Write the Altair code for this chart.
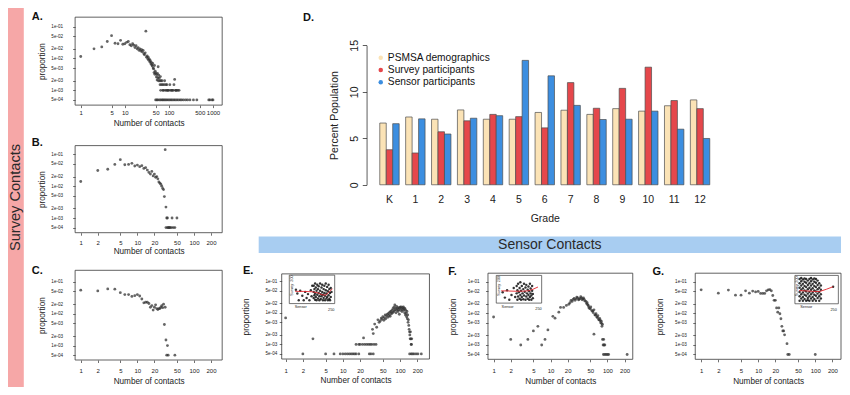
import math
import altair as alt
import pandas as pd

# ---------------- data ----------------
grades = ["K", "1", "2", "3", "4", "5", "6", "7", "8", "9", "10", "11", "12"]
psmsa_pct = [6.64, 7.29, 7.05, 8.05, 7.05, 7.05, 7.78, 8.02, 7.57, 8.19, 7.92, 8.50, 9.13]
survey_pct = [3.77, 3.42, 5.70, 6.88, 7.57, 7.33, 6.12, 10.99, 8.23, 10.37, 12.65, 9.06, 8.19]
sensor_pct = [6.57, 7.09, 5.46, 7.16, 7.43, 13.38, 11.72, 8.54, 7.02, 7.05, 7.92, 5.98, 4.98]
series_names = ["PSMSA demographics", "Survey participants", "Sensor participants"]
series_colors = ["#FBE3B6", "#E5474B", "#3C8EE0"]

y_ticks = [1e-1, 5e-2, 2e-2, 1e-2, 5e-3, 2e-3, 1e-3, 5e-4]
x_ticks_a = [1, 5, 10, 50, 100, 500, 1000]
x_ticks = [1, 2, 5, 10, 20, 50, 100, 200]

panel_a = [
    (1, 0.0115), (2, 0.020), (3, 0.023), (4, 0.034), (5, 0.052), (6, 0.030), (7, 0.029), (8, 0.037), (9, 0.028), (10, 0.029),
    (11, 0.032), (12, 0.034), (13, 0.027), (14, 0.025), (15, 0.029), (16, 0.026), (17, 0.022), (18, 0.025), (19, 0.020), (20, 0.022),
    (21, 0.018), (22, 0.020), (23, 0.017), (24, 0.019), (25, 0.016), (26, 0.018), (27, 0.014), (28, 0.013), (29, 0.015), (30, 0.072),
    (31, 0.011), (32, 0.012), (33, 0.0098), (34, 0.011), (35, 0.0088), (36, 0.0095), (37, 0.0078), (38, 0.0085), (39, 0.0068), (40, 0.0075),
    (41, 0.0062), (42, 0.0058), (43, 0.0070), (44, 0.0050), (45, 0.0047), (46, 0.0036), (47, 0.0060), (48, 0.0032), (49, 0.0040), (50, 0.0035),
    (52, 0.0026), (53, 0.0031), (54, 0.0021), (55, 0.0034), (56, 0.0025), (57, 0.0055), (58, 0.0020), (59, 0.0030), (60, 0.0024), (62, 0.0020),
    (63, 0.0015), (64, 0.0027), (65, 0.0010), (66, 0.0020), (68, 0.0015), (70, 0.0020), (72, 0.0015), (73, 0.0010), (75, 0.0010), (78, 0.0015),
    (80, 0.0020), (82, 0.0010), (85, 0.0015), (88, 0.0010), (90, 0.0015), (92, 0.0010), (95, 0.0010), (100, 0.0010), (105, 0.0015), (110, 0.0010),
    (115, 0.0010), (120, 0.0010), (125, 0.0010), (130, 0.0015), (135, 0.0022), (140, 0.0010), (145, 0.0010), (150, 0.0010), (160, 0.0010), (170, 0.0010),
    (50, 0.0005), (53, 0.0005), (56, 0.0005), (61, 0.0005), (65, 0.0005), (70, 0.0005), (74, 0.0005), (79, 0.0005), (84, 0.0005), (90, 0.0005),
    (97, 0.0005), (104, 0.0005), (112, 0.0005), (120, 0.0005), (130, 0.0005), (140, 0.0005), (152, 0.0005), (165, 0.0005), (180, 0.0005), (195, 0.0005),
    (215, 0.0005), (240, 0.0005), (265, 0.0005), (300, 0.0005), (360, 0.0005), (430, 0.0005), (800, 0.0005), (850, 0.0005), (950, 0.0005), (1000, 0.0005),
]

panel_b = [
    (1, 0.014), (2, 0.031), (3, 0.034), (4, 0.048), (5, 0.068), (6, 0.047), (7, 0.048), (8, 0.052), (9, 0.043), (10, 0.046),
    (11, 0.041), (12, 0.044), (13, 0.036), (14, 0.038), (15, 0.032), (16, 0.027), (17, 0.024), (18, 0.029), (19, 0.021), (20, 0.024),
    (21, 0.019), (22, 0.020), (23, 0.017), (24, 0.0135), (25, 0.0125), (26, 0.0115), (27, 0.0100), (28, 0.0085), (29, 0.0078), (30, 0.0047),
    (31, 0.140), (32, 0.0022), (33, 0.0010), (34, 0.0010), (41, 0.0010), (50, 0.0010),
    (32, 0.0005), (34, 0.0005), (35, 0.0005), (36, 0.0005), (37, 0.0005), (38, 0.0005), (40, 0.0005), (43, 0.0005), (46, 0.0005),
]

panel_c = [
    (1, 0.055), (2, 0.052), (3, 0.060), (4, 0.059), (5, 0.046), (6, 0.040), (7, 0.040), (8, 0.035), (9, 0.037), (10, 0.040),
    (11, 0.036), (12, 0.029), (13, 0.022), (14, 0.023), (15, 0.023), (16, 0.021), (17, 0.016), (18, 0.018), (19, 0.013), (20, 0.016),
    (21, 0.019), (22, 0.0145), (23, 0.0135), (24, 0.0145), (25, 0.0145), (26, 0.016), (27, 0.018), (28, 0.0155), (29, 0.020), (30, 0.0046),
    (31, 0.016), (32, 0.0015), (34, 0.0010), (33, 0.0005), (35, 0.0005), (46, 0.0005),
]

panel_e = [
    (1, 0.0069), (2, 0.0005), (3, 0.0015), (5, 0.0005), (7, 0.0005), (9, 0.0005), (10, 0.0005), (11, 0.0005), (12, 0.0005), (13, 0.0005),
    (14, 0.0005), (15, 0.0005), (16, 0.0005), (17, 0.0005), (19, 0.0005), (17, 0.0010), (19, 0.0010), (20, 0.0010), (22, 0.0010), (23, 0.0016),
    (24, 0.0010), (26, 0.0010), (28, 0.0010), (29, 0.0005), (30, 0.0010), (31, 0.0005), (32, 0.0010), (33, 0.0030), (34, 0.0022), (34, 0.0005),
    (35, 0.0010), (36, 0.0044), (38, 0.0010), (39, 0.0035), (41, 0.0060), (43, 0.0050), (45, 0.0055), (47, 0.0068), (48, 0.0062), (50, 0.0075),
    (52, 0.0058), (53, 0.0070), (55, 0.0085), (56, 0.0065), (58, 0.0080), (60, 0.0090), (61, 0.0072), (63, 0.0095), (64, 0.0082), (66, 0.0105),
    (67, 0.0078), (69, 0.0110), (70, 0.0092), (72, 0.0120), (73, 0.0098), (75, 0.0135), (76, 0.0105), (78, 0.0150), (79, 0.0115), (81, 0.0178),
    (82, 0.0125), (84, 0.0140), (85, 0.0100), (87, 0.0160), (88, 0.0120), (90, 0.0135), (92, 0.0110), (93, 0.0145), (95, 0.0125), (97, 0.0090),
    (98, 0.0140), (100, 0.0150), (102, 0.0120), (104, 0.0155), (106, 0.0135), (108, 0.0110), (110, 0.0145), (112, 0.0130), (114, 0.0155), (116, 0.0120),
    (118, 0.0140), (120, 0.0100), (122, 0.0135), (124, 0.0085), (126, 0.0120), (128, 0.0095), (130, 0.0075), (132, 0.0110), (134, 0.0065), (136, 0.0085),
    (138, 0.0050), (140, 0.0060), (142, 0.0040), (144, 0.0030), (146, 0.0025), (148, 0.0020), (150, 0.0015), (152, 0.0025), (154, 0.0015), (156, 0.0010),
    (158, 0.0010), (160, 0.0015), (147, 0.0005), (157, 0.0005), (165, 0.0005), (175, 0.0005), (190, 0.0005), (205, 0.0005), (235, 0.0005),
]

panel_f = [
    (1, 0.0077), (2, 0.0015), (3, 0.0010), (4, 0.0015), (5, 0.0028), (6, 0.0039), (7, 0.0010), (8, 0.0015), (9, 0.0030), (11, 0.0081),
    (12, 0.0071), (14, 0.0110), (15, 0.0155), (17, 0.0155), (19, 0.0180), (21, 0.0195), (22, 0.0220), (23, 0.0260), (24, 0.0240), (25, 0.0280),
    (26, 0.0300), (27, 0.0260), (28, 0.0290), (29, 0.0330), (30, 0.0310), (31, 0.0270), (32, 0.0280), (33, 0.0300), (34, 0.0340), (35, 0.0310),
    (36, 0.0270), (37, 0.0290), (38, 0.0310), (39, 0.0280), (40, 0.0250), (42, 0.0240), (43, 0.0205), (44, 0.0220), (45, 0.0190), (46, 0.0180),
    (47, 0.0160), (48, 0.0145), (50, 0.0140), (51, 0.0160), (53, 0.0123), (55, 0.0120), (56, 0.0107), (58, 0.0130), (58, 0.0022), (60, 0.0091),
    (62, 0.0088), (63, 0.0098), (65, 0.0077), (67, 0.0074), (68, 0.0085), (70, 0.0064), (72, 0.0062), (73, 0.0070), (75, 0.0060), (76, 0.0051),
    (78, 0.0057), (79, 0.0048), (80, 0.0039), (82, 0.0045), (82, 0.0015), (86, 0.0015), (84, 0.0010), (87, 0.0010), (90, 0.0010), (85, 0.0005),
    (90, 0.0005), (95, 0.0005), (100, 0.0005), (105, 0.0005), (222, 0.0005),
]

panel_g = [
    (1, 0.056), (2, 0.044), (3, 0.055), (4, 0.038), (5, 0.038), (6, 0.052), (7, 0.044), (8, 0.051), (9, 0.048), (10, 0.050),
    (11, 0.043), (12, 0.043), (13, 0.043), (14, 0.052), (15, 0.056), (16, 0.057), (17, 0.052), (18, 0.037), (19, 0.026), (20, 0.026),
    (21, 0.015), (22, 0.011), (23, 0.015), (24, 0.0098), (25, 0.0068), (26, 0.0039), (27, 0.0028), (28, 0.0028), (29, 0.0021), (32, 0.0011),
    (33, 0.0005), (35, 0.0005), (100, 0.0005),
]

# insets: (sensor contacts, survey contacts) and the red smooth line
inset_e = [
    (5, 95), (15, 60), (25, 0), (35, 85), (50, 40), (60, 0), (70, 75), (80, 20), (90, 55), (100, 0), (110, 90), (115, 35), (120, 130),
    (130, 20), (130, 75), (130, 130), (135, 45), (135, 100), (140, 5), (140, 60), (140, 150), (145, 30), (145, 115), (150, 85), (150, 0),
    (155, 50), (155, 140), (160, 15), (160, 100), (165, 65), (165, 125), (170, 35), (170, 0), (175, 85), (175, 150), (180, 55), (180, 10),
    (185, 115), (185, 35), (190, 75), (190, 140), (195, 0), (195, 50), (200, 100), (200, 20), (205, 130), (205, 65), (210, 40), (210, 0),
    (215, 90), (215, 150), (220, 15), (220, 60), (225, 120), (225, 30), (230, 80), (230, 0), (235, 45), (235, 140), (240, 100), (240, 10),
    (245, 65), (245, 0), (250, 30), (250, 110), (255, 75),
]
inset_e_fit = [(0, 80), (60, 79), (120, 76), (160, 66), (190, 48), (215, 46), (240, 75), (262, 104)]

inset_f = [
    (10, 70), (25, 20), (40, 90), (55, 0), (70, 45), (85, 110), (95, 25), (105, 60), (105, 130), (110, 0), (110, 90), (115, 30),
    (115, 150), (120, 70), (125, 110), (125, 10), (130, 165), (130, 45), (135, 85), (135, 0), (140, 130), (140, 25), (145, 60),
    (150, 100), (150, 5), (155, 150), (155, 40), (160, 75), (165, 0), (165, 115), (170, 30), (170, 140), (175, 60), (180, 95),
    (180, 10), (185, 45), (185, 125), (190, 0), (190, 80), (195, 150), (195, 25), (200, 60), (200, 105), (205, 0), (205, 40),
    (210, 130), (210, 85), (215, 15), (215, 55),
]
inset_f_fit = [(0, 84), (50, 82), (100, 80), (150, 81), (185, 84), (215, 98), (250, 120)]

inset_g = [
    (4, 0), (4, 40), (4, 80), (4, 120), (4, 160), (4, 200),
    (16, 20), (16, 60), (16, 100), (16, 140), (16, 180), (16, 210),
    (28, 0), (28, 35), (28, 75), (28, 115), (28, 155), (28, 195),
    (40, 15), (40, 55), (40, 95), (40, 135), (40, 175), (40, 205),
    (52, 0), (52, 45), (52, 85), (52, 125), (52, 165), (52, 200),
    (64, 25), (64, 65), (64, 105), (64, 145), (64, 185), (64, 5),
    (76, 0), (76, 40), (76, 80), (76, 120), (76, 160), (76, 200),
    (88, 20), (88, 60), (88, 100), (88, 140), (88, 180), (88, 210),
    (100, 0), (100, 35), (100, 75), (100, 115), (100, 155), (100, 195),
    (112, 15), (112, 55), (112, 95), (112, 135), (112, 175), (112, 205),
    (124, 0), (124, 45), (124, 85), (124, 125), (124, 165), (124, 200),
    (136, 25), (136, 65), (136, 105), (136, 145), (136, 185),
    (148, 0), (148, 40), (148, 80), (148, 120), (148, 160),
    (160, 20), (160, 60), (160, 100), (160, 140),
    (250, 128),
]
inset_g_fit = [(0, 93), (50, 90), (100, 86), (150, 84), (200, 105), (250, 129)]

# ---------------- layout helpers (reference pixel -> chart pixel) ----------------
W, H = 834, 379
SX = W / 845.0
SY = H / 393.0
FONT = "Liberation Sans"
INK = "#222222"


def X(v):
    return round((v - 2) * SX, 2)


def Y(v):
    return round(v * SY, 2)


def scatter_panel(points, box, xt, yt, xvals, gaps):
    left, right, top, bottom = box
    (xa, pa), (xb, pb) = xt
    ux = (pb - pa) / (math.log10(xb) - math.log10(xa))
    xdom = [10 ** (math.log10(xa) - (pa - left) / ux), 10 ** (math.log10(xb) + (right - pb) / ux)]
    t1, t2 = yt
    uy = (t2 - t1) / (math.log10(0.1) - math.log10(5e-4))
    ydom = [10 ** (math.log10(5e-4) - (bottom - t2) / uy), 10 ** (-1 + (t1 - top) / uy)]
    xsc = alt.Scale(type="log", domain=xdom, range=[X(left), X(right)], nice=False)
    ysc = alt.Scale(type="log", domain=ydom, range=[Y(bottom), Y(top)], nice=False)
    xlab, xtit, ylab, ytit = gaps
    frame = alt.Chart(pd.DataFrame({"x": [xdom[0]], "x2": [xdom[1]], "y": [ydom[0]], "y2": [ydom[1]]})).mark_rect(
        fill="white", fillOpacity=0, stroke="#3a3a3a", strokeWidth=0.8
    ).encode(
        x=alt.X("x:Q", scale=xsc, axis=None), x2="x2",
        y=alt.Y("y:Q", scale=ysc, axis=None), y2="y2",
    )
    xaxis = alt.Axis(
        orient="bottom", offset=Y(bottom) - H, values=xvals, format="d", domain=False, grid=False,
        tickSize=2.5, tickColor="#333", tickWidth=0.7, labelFontSize=6, labelColor=INK,
        labelPadding=max(0.0, xlab * SY - 2.5 - 2.6), labelFlush=False, labelOverlap=False,
        title="Number of contacts", titleFontSize=8.2, titleFontWeight="normal", titleColor=INK,
        minExtent=10, maxExtent=10, titlePadding=xtit * SY - 10 - 4.35,
    )
    yaxis = alt.Axis(
        orient="left", offset=-X(left), values=y_ticks,
        labelExpr="replace(format(datum.value, '.0e'), 'e-', 'e-0')",
        domain=False, grid=False, tickSize=2.5, tickColor="#333", tickWidth=0.7,
        labelFontSize=4.6, labelColor=INK, labelPadding=max(0.0, ylab * SX - 2.5), labelOverlap=False, labelFlush=False,
        title="proportion", titleFontSize=8.2, titleFontWeight="normal", titleColor=INK,
        minExtent=20, maxExtent=20, titlePadding=ytit * SX - 20 - 3.85,
    )
    pts = alt.Chart(pd.DataFrame(points, columns=["x", "y"])).mark_circle(
        size=8, color="#333333", opacity=0.75
    ).encode(
        x=alt.X("x:Q", scale=xsc, axis=xaxis),
        y=alt.Y("y:Q", scale=ysc, axis=yaxis),
    )
    return [frame, pts]


def inset_panel(points, fit, box, x0px, x250px, y0px, y200px):
    bl, bt, br, bb = box
    xu = (x250px - x0px) / 250.0
    xdom = [-(x0px - bl) / xu, 250 + (br - x250px) / xu]
    yu = (y0px - y200px) / 200.0
    ydom = [-(bb - y0px) / yu, 200 + (y200px - bt) / yu]
    xsc = alt.Scale(domain=xdom, range=[X(bl), X(br)], nice=False, zero=False)
    ysc = alt.Scale(domain=ydom, range=[Y(bb), Y(bt)], nice=False, zero=False)
    frame = alt.Chart(pd.DataFrame({"x": [xdom[0]], "x2": [xdom[1]], "y": [ydom[0]], "y2": [ydom[1]]})).mark_rect(
        fill="white", stroke="#3a3a3a", strokeWidth=0.7
    ).encode(
        x=alt.X("x:Q", scale=xsc, axis=None), x2="x2",
        y=alt.Y("y:Q", scale=ysc, axis=None), y2="y2",
    )
    xaxis = alt.Axis(
        orient="bottom", offset=Y(bb) - H, values=[250], domain=False, grid=False, tickSize=0,
        labelFontSize=3.8, labelColor=INK, labelPadding=3.5, labelFlush=False, zindex=2,
        title="Sensor", titleFontSize=3.8, titleFontWeight="normal", titleColor=INK,
        titleX=X(bl + 11), titleY=1.0, titleBaseline="top", titleAlign="center",
    )
    yaxis = alt.Axis(
        orient="left", offset=-(X(bl) + 4.5), values=[200], domain=False, grid=False, tickSize=0,
        labelFontSize=3.8, labelColor=INK, labelPadding=0.5, labelAngle=270, labelAlign="center",
        labelBaseline="bottom", labelFlush=False, zindex=2,
        title="Survey", titleFontSize=3.8, titleFontWeight="normal", titleColor=INK,
        minExtent=0, maxExtent=0, titlePadding=0.5,
    )
    pts = alt.Chart(pd.DataFrame(points, columns=["sensor", "survey"])).mark_circle(
        size=6, color="#111111", opacity=0.85
    ).encode(
        x=alt.X("sensor:Q", scale=xsc, axis=xaxis),
        y=alt.Y("survey:Q", scale=ysc, axis=yaxis),
    )
    line = alt.Chart(pd.DataFrame(fit, columns=["sensor", "survey"])).mark_line(
        color="#E3242B", strokeWidth=0.9
    ).encode(
        x=alt.X("sensor:Q", scale=xsc, axis=None),
        y=alt.Y("survey:Q", scale=ysc, axis=None),
    )
    return [frame, pts, line]


def banner(label, x0, x1, y0, y1, fill, size, angle):
    df = pd.DataFrame({"label": [label]})
    xs = alt.Scale(domain=[label], range=[X(x0), X(x1)], paddingInner=0, paddingOuter=0)
    ys = alt.Scale(domain=[label], range=[Y(y0), Y(y1)], paddingInner=0, paddingOuter=0)
    rect = alt.Chart(df).mark_rect(color=fill).encode(
        x=alt.X("label:N", scale=xs, axis=None), y=alt.Y("label:N", scale=ys, axis=None)
    )
    txt = alt.Chart(df).mark_text(fontSize=size, angle=angle, color="#2a2a2a", font=FONT).encode(
        x=alt.X("label:N", scale=xs, axis=None), y=alt.Y("label:N", scale=ys, axis=None), text="label:N"
    )
    return [rect, txt]


def letter(t, x, y):
    return alt.Chart(pd.DataFrame({"t": [t]})).mark_text(
        align="left", baseline="top", fontSize=11, fontWeight="bold", font=FONT, color="#111111"
    ).encode(x=alt.value(X(x)), y=alt.value(Y(y)), text="t:N")


# ---------------- panel D: grouped bars ----------------
d_df = pd.DataFrame({
    "grade": grades * 3,
    "series": [series_names[0]] * 13 + [series_names[1]] * 13 + [series_names[2]] * 13,
    "pct": psmsa_pct + survey_pct + sensor_pct,
})
d_chart = alt.Chart(d_df).mark_bar(stroke="#4d4d4d", strokeWidth=0.7).encode(
    x=alt.X(
        "grade:N", sort=grades,
        scale=alt.Scale(domain=grades, range=[X(365.3), X(726.4)], paddingInner=0.25, paddingOuter=0.51),
        axis=alt.Axis(
            orient="bottom", offset=Y(183.3) - H, domain=False, ticks=False, tickSize=0, labelAngle=0,
            labelFontSize=10.5, labelColor=INK, labelPadding=10, grid=False,
            title="Grade", titleFontSize=10.5, titleFontWeight="normal", titleColor=INK,
            minExtent=20, maxExtent=20, titlePadding=9.2,
        ),
    ),
    xOffset=alt.XOffset("series:N", sort=series_names,
                        scale=alt.Scale(domain=series_names, paddingInner=0, paddingOuter=0)),
    y=alt.Y(
        "pct:Q", stack=False,
        scale=alt.Scale(domain=[0, 15], range=[Y(183.3), Y(38.7)], nice=False),
        axis=alt.Axis(
            orient="left", offset=-X(365.3), values=[0, 5, 10, 15], domain=True, domainColor="#333",
            domainWidth=0.8, tickSize=4.3, tickColor="#333", tickWidth=0.8, labelAngle=270,
            labelAlign="center", labelBaseline="bottom", labelFontSize=10.5, labelPadding=3,
            labelColor=INK, grid=False, title="Percent Population", titleFontSize=10.5,
            titleFontWeight="normal", titleColor=INK, minExtent=20, maxExtent=20, titlePadding=7,
        ),
    ),
    color=alt.Color(
        "series:N", sort=series_names,
        scale=alt.Scale(domain=series_names, range=series_colors),
        legend=alt.Legend(
            orient="none", legendX=X(374.5), legendY=Y(46.3), title=None, labelFontSize=10.2,
            labelFont=FONT, labelColor="#111", symbolType="circle", symbolSize=20,
            symbolStrokeWidth=0, labelOffset=2, rowPadding=1.3, padding=0, labelLimit=300,
        ),
    ),
)

# ---------------- assemble ----------------
pa = scatter_panel(panel_a, (70, 219, 9.5, 100.7), ((1, 75.7), (1000, 209.7)), (19.3, 95.3), x_ticks_a, (7.3, 19.3, 12.7, 33))
pb = scatter_panel(panel_b, (70, 219, 142.7, 233), ((1, 75.7), (200, 207.7)), (151.7, 227.7), x_ticks, (9.7, 20.3, 12.7, 32.7))
pc = scatter_panel(panel_c, (70, 219, 272, 365), ((1, 75.7), (200, 207.7)), (284, 360), x_ticks, (10, 22.7, 12.7, 33))
pe = scatter_panel(panel_e, (279.3, 429, 275.7, 364), ((1, 283.3), (200, 416.7)), (283.3, 358.7), x_ticks, (11.7, 22.7, 5, 36))
pf = scatter_panel(panel_f, (488.3, 635, 275, 364.3), ((1, 494), (200, 626.7)), (284, 359.3), x_ticks, (10.7, 23.4, 9, 35))
pg = scatter_panel(panel_g, (698.3, 846, 275, 364.3), ((1, 704.3), (200, 837.3)), (284, 359.3), x_ticks, (10.7, 23.4, 9, 35))

ie = inset_panel(inset_e, inset_e_fit, (287, 277, 333, 306.5), 293, 329, 303, 280)
inf = inset_panel(inset_f, inset_f_fit, (496.7, 277.3, 542.7, 306), 501.7, 539, 302.5, 280.5)
ig = inset_panel(inset_g, inset_g_fit, (799.3, 277.3, 843.3, 306.7), 803.5, 838, 303.5, 281)

strip = banner("Survey Contacts", 2, 18, 0, 393, "#F6A7A7", 14.6, 270)
band = banner("Sensor Contacts", 256, 846, 237, 254, "#A8CDF1", 14, 0)

letters = [
    letter("A.", 26, 3), letter("B.", 26, 134), letter("C.", 26, 266), letter("D.", 301, 4),
    letter("E.", 240, 267), letter("F.", 448, 268), letter("G.", 655, 268),
]

layers = strip + band + [d_chart] + pa + pb + pc + pe + ie + pf + inf + pg + ig + letters

chart = alt.layer(*layers).resolve_scale(x="independent", y="independent").properties(
    width=W, height=H, padding=0, autosize=alt.AutoSizeParams(type="none")
).configure(font=FONT).configure_view(strokeWidth=0)

chart.save("out.html", embed_options={"renderer": "svg", "actions": False})
